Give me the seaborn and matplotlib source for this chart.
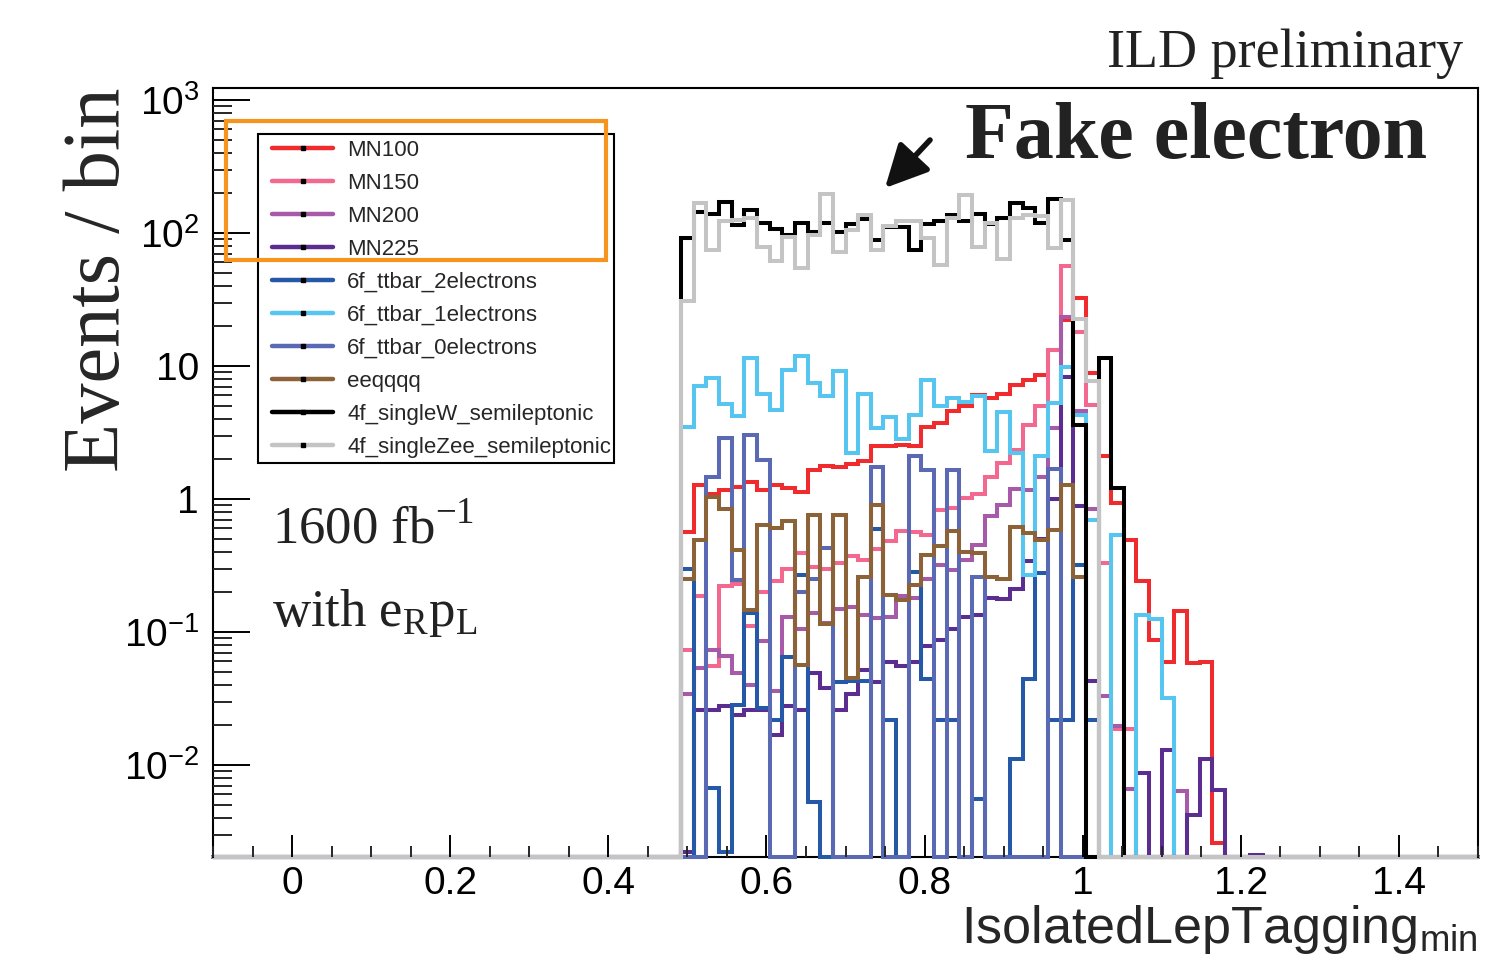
import numpy as np
import matplotlib
matplotlib.use("Agg")
import matplotlib.pyplot as plt
import seaborn as sns
from matplotlib.lines import Line2D
from matplotlib.patches import Rectangle
from matplotlib.ticker import LogLocator, NullFormatter, MultipleLocator

# ---------------- data ----------------
x_min, x_max, n_bins = -0.1, 1.5, 100
first_bin = 37  # values below start at this bin index

series_names = ["MN100", "MN150", "MN200", "MN225",
                "6f_ttbar_2electrons", "6f_ttbar_1electrons", "6f_ttbar_0electrons",
                "eeqqqq", "4f_singleW_semileptonic", "4f_singleZee_semileptonic"]
series_colors = ["#ef2b2d", "#f2688e", "#a65aa8", "#5c2d91",
                 "#2559a7", "#56c5f0", "#5a69b3",
                 "#8c6239", "#000000", "#c4c4c4"]

mn100 = [0.56, 1.27, 1.09, 1.17, 1.24, 1.35, 1.16, 1.27, 1.2, 1.13,
         1.65, 1.77, 1.75, 1.83, 1.94, 2.5, 2.5, 2.55, 2.5, 3.5,
         3.75, 4.6, 5.0, 6.0, 5.7, 6.2, 7.2, 7.8, 8.6, 13.2,
         22, 32.6, 8.8, 2.1, 0.93, 0.49, 0.24, 0.087, 0.059, 0.144,
         0.058, 0.059, 0.0026, 0, 0, 0]
mn150 = [0.073, 0.185, 0.055, 0.22, 0.23, 0.11, 0.2, 0.24, 0.3, 0.39,
         0.31, 0.3, 0.33, 0.37, 0.35, 0.42, 0.48, 0.57, 0.56, 0.54,
         0.83, 0.86, 1.01, 1.09, 1.47, 1.87, 2.33, 3.6, 5.0, 13.2,
         56, 17.9, 5.1, 0.33, 0.0187, 0.0187, 0, 0, 0, 0,
         0, 0, 0, 0, 0, 0]
mn200 = [0.034, 0.054, 0.073, 0.066, 0.049, 0.04, 0.086, 0.036, 0.13, 0.105,
         0.138, 0.117, 0.15, 0.155, 0.134, 0.127, 0.13, 0.185, 0.18, 0.25,
         0.32, 0.29, 0.35, 0.45, 0.74, 0.9, 1.18, 1.17, 1.47, 3.4,
         23.5, 4.6, 0.84, 0.033, 0.0195, 0.0066, 0, 0, 0, 0.0064,
         0, 0, 0, 0, 0, 0]
mn225 = [0.0022, 0.0257, 0.0257, 0.0278, 0.0238, 0.026, 0.0257, 0.0168, 0.0278, 0.026,
         0.049, 0.038, 0.0257, 0.034, 0.052, 0.042, 0.059, 0.055, 0.059, 0.079,
         0.087, 0.105, 0.13, 0.134, 0.18, 0.176, 0.21, 0.34, 0.5, 1.0,
         8.2, 0.89, 0.043, 0, 0, 0, 0.0087, 0, 0.013, 0,
         0.0042, 0.011, 0.0065, 0, 0, 0.0021]
tt2e = [0.3, 0, 0.0067, 0.0022, 0.028, 0.138, 0.027, 0.0218, 0.065, 0.27,
        0.0053, 0, 0.042, 0.043, 0.043, 0.59, 0.0218, 0, 0.28, 0.044,
        0.0218, 0.0218, 0, 0.0055, 0, 0, 0.011, 0.044, 0.276, 0.0218,
        0.0218, 0.32, 0.0216, 0, 0, 0, 0, 0, 0, 0,
        0, 0, 0, 0, 0, 0]
tt1e = [3.5, 7.1, 8.1, 5.2, 4.2, 11.4, 6.2, 4.7, 9.3, 11.9,
        7.5, 5.9, 9.1, 2.2, 6.2, 3.4, 4.1, 2.8, 4.3, 7.8,
        5.0, 5.7, 5.4, 5.9, 2.3, 4.5, 2.2, 0.27, 2.1, 5.3,
        9.8, 4.3, 0.69, 0, 0.54, 0, 0.135, 0.126, 0.032, 0,
        0, 0, 0, 0, 0, 0]
tt0e = [0, 0, 1.47, 2.86, 0.246, 3.03, 1.96, 0, 0, 0.2,
        0.25, 0.43, 0, 0, 0, 1.75, 0, 0, 2.1, 1.65,
        0, 1.65, 0, 0.26, 0, 0, 0, 0, 0, 1.67,
        0, 0, 0, 0, 0, 0, 0, 0, 0, 0,
        0, 0, 0, 0, 0, 0]
eeqqqq = [0.25, 0.49, 1.03, 0.84, 0.41, 0.147, 0.64, 0.6, 0.68, 0.056,
          0.76, 0.115, 0.76, 0.045, 0.26, 0.9, 0.19, 0.174, 0.226, 0.38,
          0.44, 0.57, 0.4, 0.39, 0.26, 0.25, 0.62, 0.55, 0.49, 0.58,
          1.27, 0.257, 0, 0, 0, 0, 0, 0, 0, 0,
          0, 0, 0, 0, 0, 0]
single_w = [91, 143, 140, 172, 115, 150, 118, 107, 96, 118,
            102, 118, 102, 116, 127, 89, 110, 111, 74.5, 116,
            123, 137, 123, 140, 116, 130, 167, 153, 118, 179,
            89, 3.6, 0, 11.5, 1.21, 0, 0, 0, 0, 0,
            0, 0, 0, 0, 0, 0]
single_zee = [31, 169, 74.5, 122, 125, 130, 79, 62, 94, 55,
              96, 198, 72, 105, 137, 74.5, 112, 124, 124, 92,
              57.5, 130, 193, 79, 119, 64, 130, 137, 134, 77,
              177, 22.7, 7.7, 0, 0, 0, 0, 0, 0, 0,
              0, 0, 0, 0, 0, 0]

series_values = [mn100, mn150, mn200, mn225, tt2e, tt1e, tt0e, eeqqqq, single_w, single_zee]

xtick_values = [0, 0.2, 0.4, 0.6, 0.8, 1.0, 1.2, 1.4]
xtick_labels = ["0", "0.2", "0.4", "0.6", "0.8", "1", "1.2", "1.4"]
ytick_values = [1e-2, 1e-1, 1, 10, 1e2, 1e3]
ytick_labels = [r"$\mathregular{10^{-2}}$", r"$\mathregular{10^{-1}}$", "1", "10",
                r"$\mathregular{10^{2}}$", r"$\mathregular{10^{3}}$"]

# ---------------- style ----------------
sns.set_style("white")
plt.rcParams["font.family"] = ["Liberation Sans", "DejaVu Sans"]

W, H = 1505, 974
fig = plt.figure(figsize=(W / 100, H / 100), dpi=100)
ax = fig.add_axes([213 / W, 1 - 857 / H, (1478 - 213) / W, (857 - 88) / H])

edges = np.round(np.linspace(x_min, x_max, n_bins + 1), 6)
centers = 0.5 * (edges[:-1] + edges[1:])
y_lo, y_hi = 10 ** -2.692, 10 ** 3.09

for name, color, vals in zip(series_names, series_colors, series_values):
    full = np.zeros(n_bins)
    full[first_bin:first_bin + len(vals)] = vals
    shown = np.where(full > 0, np.maximum(full, y_lo), y_lo)  # empty bins sit on the frame bottom
    sns.histplot(x=centers, weights=shown, bins=edges.tolist(), element="step", fill=False,
                 color=color, linewidth=2.9, ax=ax, legend=False, clip_on=False,
                 solid_joinstyle="miter")

ax.set_yscale("log")
ax.set_xlim(x_min, x_max)
ax.set_ylim(y_lo, y_hi)
ax.set_axisbelow(False)

ax.set_xticks(xtick_values)
ax.set_xticklabels(xtick_labels)
ax.xaxis.set_minor_locator(MultipleLocator(0.05))
ax.set_yticks(ytick_values)
ax.set_yticklabels(ytick_labels)
ax.yaxis.set_minor_locator(LogLocator(base=10, subs=np.arange(2, 10), numticks=30))
ax.yaxis.set_minor_formatter(NullFormatter())

ax.tick_params(axis="x", which="major", length=15.8, width=1.4, direction="in",
               pad=6.5, labelsize=28, colors="black", bottom=True, top=False)
ax.tick_params(axis="x", which="minor", length=8, width=1.4, direction="in",
               bottom=True, top=False)
ax.tick_params(axis="y", which="major", length=26.6, width=1.4, direction="in",
               pad=10, labelsize=28, colors="black", left=True, right=False)
ax.tick_params(axis="y", which="minor", length=13.7, width=1.4, direction="in",
               left=True, right=False)
for s in ax.spines.values():
    s.set_color("black")
    s.set_linewidth(1.5)
ax.spines["bottom"].set_zorder(1)  # empty-bin lines of the histograms lie on the frame bottom

ax.set_xlabel(r"IsolatedLepTagging$_{\mathregular{min}}$", fontsize=37.5, loc="right")
ax.xaxis.set_label_coords(1.0, -0.06)
ax.set_ylabel("Events / bin", family=["Liberation Serif", "DejaVu Serif"], fontsize=58, loc="top")
ax.yaxis.set_label_coords(-0.061, 1.0)

# legend
handles = [Line2D([0], [0], color=c, lw=3.2, marker="s", markersize=2.2,
                  markerfacecolor="k", markeredgecolor="k") for c in series_colors]
ax.legend(handles, series_names, loc="upper left",
          bbox_to_anchor=(272 / W, 1 - 140 / H), bbox_transform=fig.transFigure,
          frameon=False, fontsize=16, borderpad=0, borderaxespad=0,
          labelspacing=0.54, handlelength=2.75, handletextpad=0.63, numpoints=1)
fig.add_artist(Rectangle((258 / W, 1 - 463 / H), (614 - 258) / W, (463 - 134) / H,
                         transform=fig.transFigure, fill=False, ec="black", lw=1.5))
fig.add_artist(Rectangle((226 / W, 1 - 260 / H), (606 - 226) / W, (260 - 121) / H,
                         transform=fig.transFigure, fill=False, ec="#f7941d", lw=3))

# annotations
serif = ["Liberation Serif", "DejaVu Serif"]
fig.text(1463 / W, 1 - 67 / H, "ILD preliminary", ha="right", va="baseline",
         family=serif, fontsize=39, color="#222222")
fig.text(965 / W, 1 - 158 / H, "Fake electron", ha="left", va="baseline",
         family=serif, fontweight="bold", fontsize=57.5, color="#222222")
fig.text(272 / W, 1 - 543 / H, r"1600 fb$^{\mathregular{-1}}$", ha="left", va="baseline",
         family=serif, fontsize=38, color="#222222")
fig.text(272 / W, 1 - 626 / H, r"with e$_{\mathregular{R}}$p$_{\mathregular{L}}$", ha="left",
         va="baseline", family=serif, fontsize=38, color="#222222")
ax.annotate("", xy=(885 / W, 1 - 188 / H), xycoords="figure fraction",
            xytext=(930 / W, 1 - 140 / H), textcoords="figure fraction",
            arrowprops=dict(arrowstyle="-|>,head_length=1.0,head_width=0.5", lw=4,
                            color="#111111", mutation_scale=26, shrinkA=0, shrinkB=0))

fig.savefig("out.png", dpi=100)
